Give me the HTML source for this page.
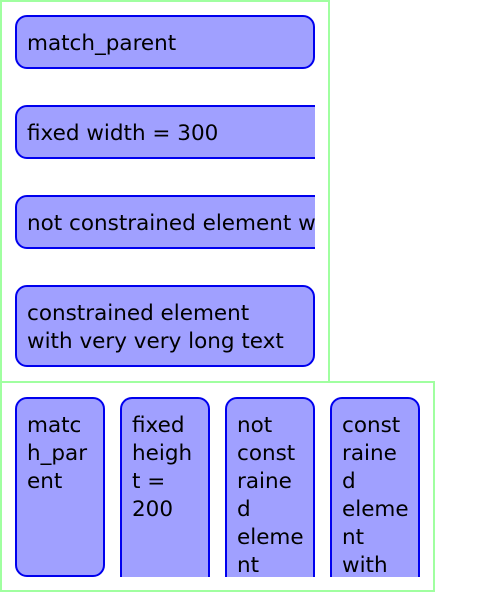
<!DOCTYPE html>
<html><head><style>
html,body{margin:0;width:480px;height:592px;overflow:hidden}
body{background:#fff;position:relative;font-family:"DejaVu Sans","Liberation Sans",sans-serif;font-size:21.5px;line-height:28px;color:#000}
.c{position:absolute;border:2px solid #a0ffa0;box-sizing:border-box}
.clip{position:absolute;overflow:hidden}
.b{position:absolute;background:#a0a0ff;border:2px solid #0000ee;border-radius:12px;box-sizing:border-box;padding:13px 0 0 10px;white-space:nowrap}
</style></head><body>
<div class="c" style="left:0;top:0;width:330px;height:383px"></div>
<div class="c" style="left:0;top:381px;width:435px;height:211px"></div>

<div class="clip" style="left:0;top:0;width:315px;height:381px">
<div class="b" style="left:15px;top:15px;width:300px;height:54px">match_parent</div>
<div class="b" style="left:15px;top:105px;width:320px;height:54px">fixed width = 300</div>
<div class="b" style="left:15px;top:195px;width:520px;height:54px">not constrained element with very very long text</div>
<div class="b" style="left:15px;top:285px;width:300px;height:82px">constrained element<br>with very very long text</div>
</div>

<div class="clip" style="left:0;top:383px;width:480px;height:194px">
<div class="b" style="left:15px;top:14px;width:90px;height:180px">matc<br>h_par<br>ent</div>
<div class="b" style="left:120px;top:14px;width:90px;height:220px">fixed<br>heigh<br>t =<br>200</div>
<div class="b" style="left:225px;top:14px;width:90px;height:400px">not<br>const<br>raine<br>d<br>eleme<br>nt<br>with</div>
<div class="b" style="left:330px;top:14px;width:90px;height:400px">const<br>raine<br>d<br>eleme<br>nt<br>with<br>very</div>
</div>
</body></html>
